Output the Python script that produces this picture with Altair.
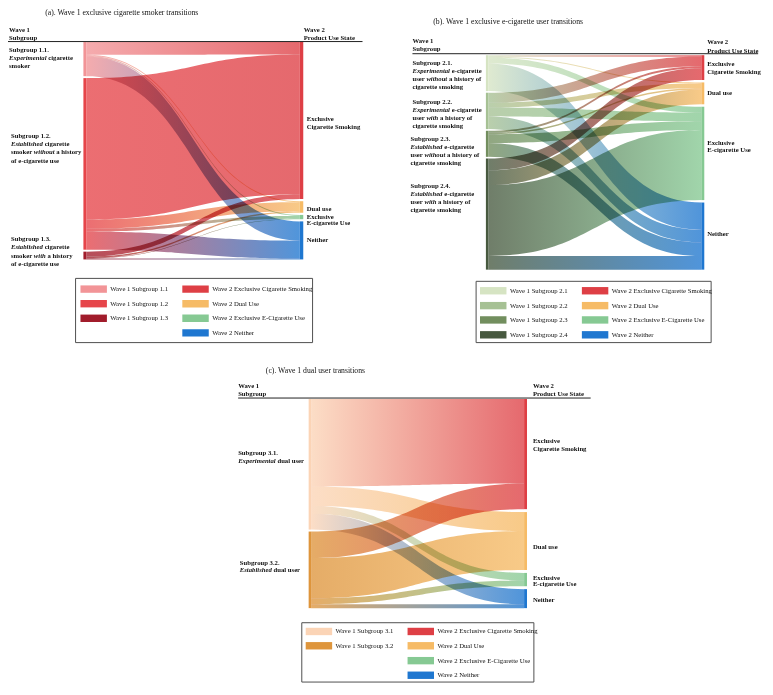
import altair as alt
import numpy as np
import pandas as pd

# ---------------- data ----------------
target_names = ["Wave 2 Exclusive Cigarette Smoking", "Wave 2 Dual Use",
                "Wave 2 Exclusive E-Cigarette Use", "Wave 2 Neither"]
target_colors = ["#DE3F45", "#F6BB66", "#86C993", "#1F77D0"]
right_labels = [["Exclusive", "Cigarette Smoking"], ["Dual use"],
                ["Exclusive", "E-cigarette Use"], ["Neither"]]

a_names = ["Wave 1 Subgroup 1.1", "Wave 1 Subgroup 1.2", "Wave 1 Subgroup 1.3"]
a_colors = ["#F29497", "#E6454A", "#A11C2B"]
# rows: subgroup, cols: cig, dual, e-cig, neither
a_flows = [[13, 1, 1, 20],
           [145, 9.5, 3, 18.5],
           [5, 1.5, 0.5, 1]]

b_names = ["Wave 1 Subgroup 2.1", "Wave 1 Subgroup 2.2",
           "Wave 1 Subgroup 2.3", "Wave 1 Subgroup 2.4"]
b_colors = ["#D6E4C3", "#A6C194", "#728E5E", "#47593F"]
b_flows = [[1.5, 1, 6, 28],
           [10, 5, 9, 13],
           [2, 1.5, 9, 14],
           [12, 15, 72, 14]]

c_names = ["Wave 1 Subgroup 3.1", "Wave 1 Subgroup 3.2"]
c_colors = ["#FBD4B6", "#DE953C"]
c_flows = [[89, 20, 8, 16],
           [27, 41, 6, 4]]

titles = ["(a). Wave 1 exclusive cigarette smoker transitions",
          "(b). Wave 1 exclusive e-cigarette user transitions",
          "(c). Wave 1 dual user transitions"]

a_left = [
    [[("Subgroup 1.1.", "b")], [("Experimental", "bi"), (" cigarette", "b")], [("smoker", "b")]],
    [[("Subgroup 1.2.", "b")], [("Established", "bi"), (" cigarette", "b")],
     [("smoker ", "b"), ("without", "bi"), (" a history", "b")], [("of e-cigarette use", "b")]],
    [[("Subgroup 1.3.", "b")], [("Established", "bi"), (" cigarette", "b")],
     [("smoker ", "b"), ("with", "bi"), (" a history", "b")], [("of e-cigarette use", "b")]],
]
b_left = [
    [[("Subgroup 2.1.", "b")], [("Experimental", "bi"), (" e-cigarette", "b")],
     [("user ", "b"), ("without", "bi"), (" a history of", "b")], [("cigarette smoking", "b")]],
    [[("Subgroup 2.2.", "b")], [("Experimental", "bi"), (" e-cigarette", "b")],
     [("user ", "b"), ("with", "bi"), (" a history of", "b")], [("cigarette smoking", "b")]],
    [[("Subgroup 2.3.", "b")], [("Established", "bi"), (" e-cigarette", "b")],
     [("user ", "b"), ("without", "bi"), (" a history of", "b")], [("cigarette smoking", "b")]],
    [[("Subgroup 2.4.", "b")], [("Established", "bi"), (" e-cigarette", "b")],
     [("user ", "b"), ("with", "bi"), (" a history of", "b")], [("cigarette smoking", "b")]],
]
c_left = [
    [[("Subgroup 3.1.", "b")], [("Experimental", "bi"), (" dual user", "b")]],
    [[("Subgroup 3.2.", "b")], [("Established", "bi"), (" dual user", "b")]],
]
hdr_left = ["Wave 1", "Subgroup"]
hdr_right = ["Wave 2", "Product Use State"]

# ---------------- layout (reference pixel units) ----------------
W, H = 757, 676
XD, YD = 773, 695
SX = W / XD
FONT = "Liberation Serif"
LAB_FS = 6.7
TITLE_FS = 7.7

PANELS = [
    dict(names=a_names, colors=a_colors, flows=a_flows, left=a_left,
         title=(38, 5.2), hl=(1, 22.7), hr=(302, 22.7), hdy=8, rule=(0, 362, 34.5),
         y0=35, y1=258.5, xl=(77, 80), xr=(298, 301.5), gl=2, gr=2.2,
         lpos=[(1, 43.3), (3, 131.7), (3, 237.7)], ldy=8.4,
         rx=305, ry=[[114, 122.3], [206.7], [214.7, 221.3], [238.7]],
         leg=dict(box=(69, 311, 278, 344), rows=[289, 304, 319, 334], lx=74, rx=178)),
    dict(names=b_names, colors=b_colors, flows=b_flows, left=b_left,
         title=(434.3, 14), hl=(413, 34), hr=(714, 35.3), hdy=8.5, rule=(413, 766, 47),
         y0=48.5, y1=269, xl=(488, 490.5), xr=(708, 711), gl=1.7, gr=2.5,
         lpos=[(413, 56.7), (413, 96.7), (411, 134.7), (411, 183.3)], ldy=8.2,
         rx=714, ry=[[57.3, 66], [87.3], [138.3, 145.7], [232.3]],
         leg=dict(box=(478, 718, 281, 344), rows=[290.7, 306, 320.7, 336], lx=482, rx=586)),
    dict(names=c_names, colors=c_colors, flows=c_flows, left=c_left,
         title=(263.3, 373.3), hl=(235, 388.3), hr=(536, 389), hdy=8.2, rule=(235, 595, 401),
         y0=402, y1=617, xl=(307, 309.5), xr=(527, 530), gl=2, gr=3,
         lpos=[(235, 457.7), (236.7, 570.3)], ldy=7.8,
         rx=536, ry=[[445.3, 453.7], [554], [586, 592.7], [608.7]],
         leg=dict(box=(300, 537, 632, 693), rows=[641, 655.7, 671, 686], lx=304, rx=408)),
]
SW, SH, LOFF = 27, 7.6, 3.5

BOLD = {' ': 250, 'a': 500, 'b': 556, 'c': 444, 'd': 556, 'e': 444, 'f': 333, 'g': 500,
        'h': 556, 'i': 278, 'j': 333, 'k': 556, 'l': 278, 'm': 833, 'n': 556, 'o': 500,
        'p': 556, 'q': 556, 'r': 444, 's': 389, 't': 333, 'u': 556, 'v': 500, 'w': 722,
        'x': 500, 'y': 500, 'z': 444, '-': 333, '.': 250}
BOLDIT = {' ': 250, 'a': 500, 'b': 500, 'c': 444, 'd': 500, 'e': 444, 'f': 333, 'g': 500,
          'h': 556, 'i': 278, 'j': 278, 'k': 500, 'l': 278, 'm': 778, 'n': 556, 'o': 500,
          'p': 500, 'q': 500, 'r': 389, 's': 389, 't': 278, 'u': 556, 'v': 444, 'w': 667,
          'x': 500, 'y': 444, 'z': 389, 'E': 667}


def tw(s, style):
    tab = BOLDIT if style == "bi" else BOLD
    return sum(tab.get(ch, 560) for ch in s) / 1000 * LAB_FS


xs = alt.Scale(domain=[0, XD], nice=False, zero=False)
ys = alt.Scale(domain=[0, YD], nice=False, zero=False, reverse=True)
X = lambda f: alt.X(f, type="quantitative", scale=xs, axis=None)
Y = lambda f: alt.Y(f, type="quantitative", scale=ys, axis=None)

flow_layers = []
node_rows, rule_rows, title_rows, bold_rows, bi_rows = [], [], [], [], []
box_rows, sw_rows, leg_rows = [], [], []

s = np.linspace(0, 1, 50)
fx = 1.5 * s - 1.5 * s ** 2 + s ** 3
fy = 3 * s ** 2 - 2 * s ** 3
OP = 0.78

for k, P in enumerate(PANELS):
    flows, colors = P["flows"], P["colors"]
    n, m = len(flows), len(flows[0])
    src_tot = [sum(r) for r in flows]
    tgt_tot = [sum(flows[i][j] for i in range(n)) for j in range(m)]
    span = P["y1"] - P["y0"]
    kl = (span - (n - 1) * P["gl"]) / sum(src_tot)
    kr = (span - (m - 1) * P["gr"]) / sum(tgt_tot)
    src_top, y = [], P["y0"]
    for v in src_tot:
        src_top.append(y)
        y += v * kl + P["gl"]
    tgt_top, y = [], P["y0"]
    for v in tgt_tot:
        tgt_top.append(y)
        y += v * kr + P["gr"]
    for i, v in enumerate(src_tot):
        node_rows.append(dict(x=P["xl"][0], x2=P["xl"][1], y=src_top[i], y2=src_top[i] + v * kl, c=colors[i]))
    for j, v in enumerate(tgt_tot):
        node_rows.append(dict(x=P["xr"][0], x2=P["xr"][1], y=tgt_top[j], y2=tgt_top[j] + v * kr, c=target_colors[j]))
    xa, xb = P["xl"][1], P["xr"][0]
    for i in range(n):
        for j in range(m):
            v = flows[i][j]
            if v <= 0:
                continue
            s0 = src_top[i] + sum(flows[i][:j]) * kl
            s1 = s0 + v * kl
            t0 = tgt_top[j] + sum(flows[q][j] for q in range(i)) * kr
            t1 = t0 + v * kr
            df = pd.DataFrame(dict(x=xa + (xb - xa) * fx, y=s0 + (t0 - s0) * fy, y2=s1 + (t1 - s1) * fy))
            grad = alt.LinearGradient(gradient="linear",
                                      stops=[alt.GradientStop(color=colors[i], offset=0),
                                             alt.GradientStop(color=target_colors[j], offset=1)],
                                      x1=0, x2=1, y1=0, y2=0)
            flow_layers.append(alt.Chart(df).mark_area(color=grad, fillOpacity=OP, blend="multiply")
                               .encode(x=X("x"), y=Y("y"), y2="y2"))
    # texts
    title_rows.append(dict(x=P["title"][0], y=P["title"][1], t=titles[k]))
    for li, t in enumerate(hdr_left):
        bold_rows.append(dict(x=P["hl"][0], y=P["hl"][1] + li * P["hdy"], t=t))
    for li, t in enumerate(hdr_right):
        bold_rows.append(dict(x=P["hr"][0], y=P["hr"][1] + li * P["hdy"], t=t))
    rule_rows.append(dict(x=P["rule"][0], x2=P["rule"][1], y=P["rule"][2]))
    for (lx, ly), lines in zip(P["lpos"], P["left"]):
        for li, segs in enumerate(lines):
            cur = 0.0
            for txt, st in segs:
                lead = len(txt) - len(txt.lstrip())
                trail = len(txt) - len(txt.rstrip())
                cur += lead * 250 / 1000 * LAB_FS
                core = txt.strip()
                row = dict(x=lx + cur / SX, y=ly + li * P["ldy"], t=core)
                (bi_rows if st == "bi" else bold_rows).append(row)
                cur += tw(core, st) + trail * 250 / 1000 * LAB_FS
    for j, lines in enumerate(right_labels):
        for t, yy in zip(lines, P["ry"][j]):
            bold_rows.append(dict(x=P["rx"], y=yy, t=t))
    # legend
    L = P["leg"]
    box_rows.append(dict(x=L["box"][0], x2=L["box"][1], y=L["box"][2], y2=L["box"][3]))
    for i, nm in enumerate(P["names"]):
        yy = L["rows"][i]
        sw_rows.append(dict(x=L["lx"], x2=L["lx"] + SW, y=yy - SH / 2, y2=yy + SH / 2, c=colors[i]))
        leg_rows.append(dict(x=L["lx"] + SW + LOFF, y=yy, t=nm))
    for j, nm in enumerate(target_names):
        yy = L["rows"][j]
        sw_rows.append(dict(x=L["rx"], x2=L["rx"] + SW, y=yy - SH / 2, y2=yy + SH / 2, c=target_colors[j]))
        leg_rows.append(dict(x=L["rx"] + SW + LOFF, y=yy, t=nm))

nodes = alt.Chart(pd.DataFrame(node_rows)).mark_rect().encode(
    x=X("x"), x2="x2", y=Y("y"), y2="y2", color=alt.Color("c:N", scale=None))
rules = alt.Chart(pd.DataFrame(rule_rows)).mark_rule(color="#222222", strokeWidth=1).encode(
    x=X("x"), x2="x2", y=Y("y"))
txt_title = alt.Chart(pd.DataFrame(title_rows)).mark_text(
    align="left", baseline="middle", font=FONT, fontSize=TITLE_FS, color="#111111").encode(
    x=X("x"), y=Y("y"), text="t:N")
txt_bold = alt.Chart(pd.DataFrame(bold_rows)).mark_text(
    align="left", baseline="middle", font=FONT, fontSize=LAB_FS, fontWeight="bold", color="#111111").encode(
    x=X("x"), y=Y("y"), text="t:N")
txt_bi = alt.Chart(pd.DataFrame(bi_rows)).mark_text(
    align="left", baseline="middle", font=FONT, fontSize=LAB_FS, fontWeight="bold",
    fontStyle="italic", color="#111111").encode(x=X("x"), y=Y("y"), text="t:N")
boxes = alt.Chart(pd.DataFrame(box_rows)).mark_rect(filled=False, color="#505050", strokeWidth=1).encode(
    x=X("x"), x2="x2", y=Y("y"), y2="y2")
swatches = alt.Chart(pd.DataFrame(sw_rows)).mark_rect().encode(
    x=X("x"), x2="x2", y=Y("y"), y2="y2", color=alt.Color("c:N", scale=None))
leg_txt = alt.Chart(pd.DataFrame(leg_rows)).mark_text(
    align="left", baseline="middle", font=FONT, fontSize=LAB_FS, color="#111111").encode(
    x=X("x"), y=Y("y"), text="t:N")

chart = alt.layer(*flow_layers, nodes, rules, txt_title, txt_bold, txt_bi, boxes, swatches, leg_txt).properties(
    width=W, height=H, padding=0, autosize=alt.AutoSizeParams(type="none"),
    background="white").configure_view(stroke=None)

chart.save("out.html", embed_options={"renderer": "svg", "actions": False})
